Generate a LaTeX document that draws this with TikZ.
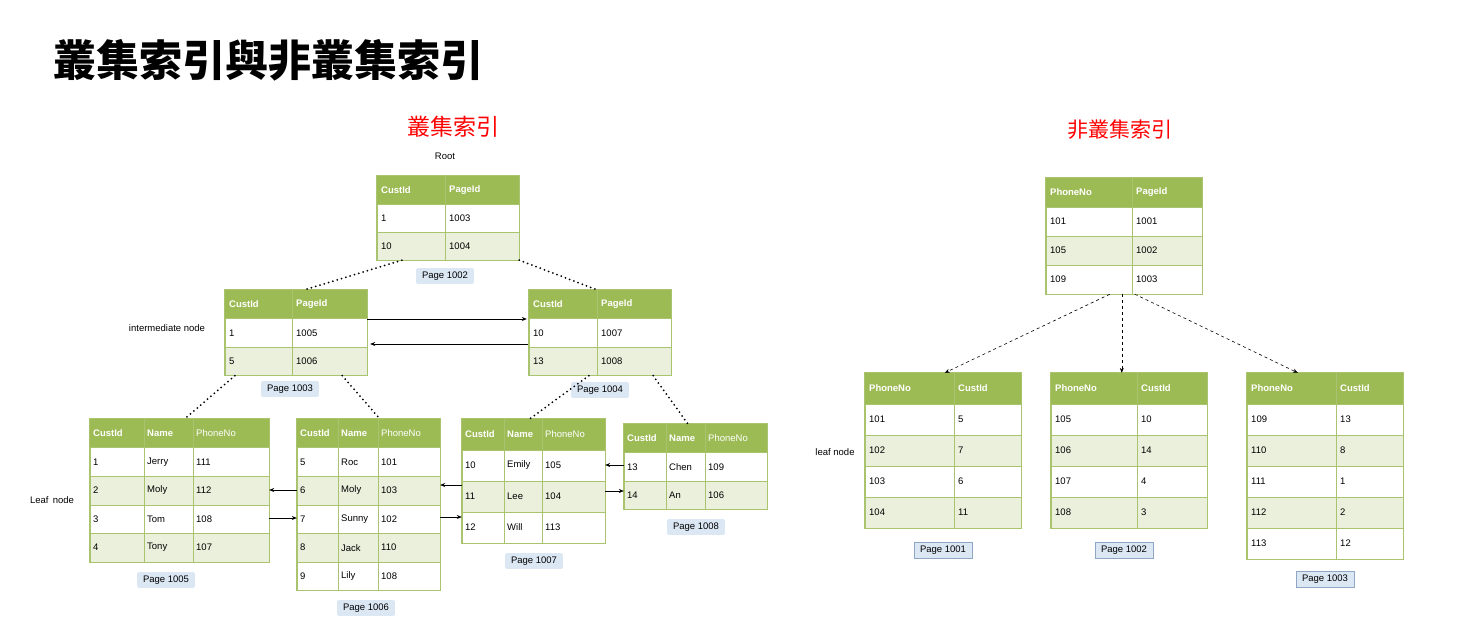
\documentclass[tikz,border=0pt]{standalone}
\usepackage{fontspec}
\setmainfont{Liberation Sans}
\newfontfamily\cjk{Noto Sans CJK TC}
\usetikzlibrary{fit,arrows.meta}
\definecolor{hdr}{HTML}{9DBB55}
\definecolor{rowg}{HTML}{EAF0DC}
\definecolor{brd}{HTML}{A9C36E}
\definecolor{pg}{HTML}{DCE7F4}
\definecolor{pgb}{HTML}{8FA6C4}
\tikzset{
 cell/.style={anchor=west,font=\fontsize{9.5}{10}\selectfont,inner sep=0pt},
 hcell/.style={anchor=west,font=\fontsize{9.5}{10}\selectfont\bfseries,text=white,inner sep=0pt},
 page/.style={fill=pg,rounded corners=1.5pt,font=\fontsize{9.5}{10}\selectfont,inner xsep=6pt,inner ysep=3.5pt},
 pageb/.style={page,draw=pgb,rounded corners=0pt},
 lbl/.style={font=\fontsize{9.5}{10}\selectfont},
 dots/.style={line width=2pt,line cap=round,dash pattern=on 0pt off 4.5pt},
 link/.style={-{Stealth[length=5pt,width=4pt]},line width=0.6pt},
 dlink/.style={dashed,-{Stealth[length=5pt,width=4pt]},line width=0.6pt}
}
% two-column table: name,x0,xs,x1,y0,h,H1,H2,rows
\newcommand\tabtwo[9]{%
 \fill[hdr] (#2,#5) rectangle (#4,{#5+#6});
 \node[hcell] at (#2+4,{#5+#6/2}) {#7};
 \node[hcell] at (#3+4,{#5+#6/2}) {#8};
 \foreach \a/\b [count=\i] in {#9}{%
  \ifodd\i\def\rc{white}\else\def\rc{rowg}\fi
  \pgfmathsetmacro\yy{#5+\i*#6}
  \filldraw[fill=\rc,draw=brd] (#2,\yy) rectangle (#4,\yy+#6);
  \draw[brd] (#3,\yy) -- (#3,\yy+#6);
  \node[cell] at (#2+4,\yy+#6/2) {\a};
  \node[cell] at (#3+4,\yy+#6/2) {\b};
  \node[inner sep=0pt,fit={(#2,#5) (#4,\yy+#6)}] (#1) {};
 }
 \draw[brd,line width=0.8pt] (#1.north west) rectangle (#1.south east);
 \draw[brd] (#3,#5) -- (#3,#5+#6);
}
% three-column table: name,x0,xs1,xs2,x1,y0,h,rows
\newcommand\tabthree[8]{%
 \fill[hdr] (#2,#6) rectangle (#5,{#6+#7});
 \node[hcell] at (#2+3,{#6+#7/2}) {CustId};
 \node[hcell] at (#3+3,{#6+#7/2}) {Name};
 \node[hcell,font=\fontsize{9.5}{10}\selectfont] at (#4+3,{#6+#7/2}) {PhoneNo};
 \foreach \a/\b/\c [count=\i] in {#8}{%
  \ifodd\i\def\rc{white}\else\def\rc{rowg}\fi
  \pgfmathsetmacro\yy{#6+\i*#7}
  \filldraw[fill=\rc,draw=brd] (#2,\yy) rectangle (#5,\yy+#7);
  \draw[brd] (#3,\yy) -- (#3,\yy+#7) (#4,\yy) -- (#4,\yy+#7);
  \node[cell] at (#2+3,\yy+#7/2) {\a};
  \node[cell] at (#3+3,\yy+#7/2) {\b};
  \node[cell] at (#4+3,\yy+#7/2) {\c};
  \node[inner sep=0pt,fit={(#2,#6) (#5,\yy+#7)}] (#1) {};
 }
 \draw[brd,line width=0.8pt] (#1.north west) rectangle (#1.south east);
 \draw[brd] (#3,#6) -- (#3,#6+#7) (#4,#6) -- (#4,#6+#7);
}
\begin{document}
\begin{tikzpicture}[x=1pt,y=-1pt]
\useasboundingbox (0,0) rectangle (1461,631);
\fill[white] (0,0) rectangle (1461,631);
\node[anchor=west,font=\cjk\bfseries\fontsize{43}{46}\selectfont] (title) at (50,60) {叢集索引與非叢集索引};
\node[text=red,font=\cjk\fontsize{23}{25}\selectfont] (t1) at (453,127) {叢集索引};
\node[text=red,font=\cjk\fontsize{21}{23}\selectfont] (t2) at (1120,130) {非叢集索引};
% clustered
\node[lbl] (rootl) at (445,156) {Root};
\tabtwo{root}{377}{445}{519}{176}{28}{CustId}{PageId}{1/1003,10/1004}
\tabtwo{il}{225}{292}{367}{290}{28.5}{CustId}{PageId}{1/1005,5/1006}
\tabtwo{ir}{529}{597}{671}{290}{28.5}{CustId}{PageId}{10/1007,13/1008}
\tabthree{l5}{90}{144}{193}{269}{419}{28.6}{1/Jerry/111,2/Moly/112,3/Tom/108,4/Tony/107}
\tabthree{l6}{297}{338}{378}{440}{419}{28.6}{5/Roc/101,6/Moly/103,7/Sunny/102,8/Jack/110,9/Lily/108}
\tabthree{l7}{462}{504}{542}{605}{419}{31}{10/Emily/105,11/Lee/104,12/Will/113}
\tabthree{l8}{624}{666}{705}{767}{424}{28.5}{13/Chen/109,14/An/106}
\node[page] (p1002) at (445,276) {Page 1002};
\node[page] (p1003) at (290,389) {Page 1003};
\node[page] (p1004) at (600,390) {Page 1004};
\node[page] (p1005) at (166,580) {Page 1005};
\node[page] (p1006) at (366,608) {Page 1006};
\node[page] (p1007) at (534,561) {Page 1007};
\node[page] (p1008) at (696,527) {Page 1008};
\node[lbl] (iml) at (167,328) {intermediate node};
\node[lbl] (lfl) at (52,500) {Leaf\, node};
\draw[dots] ([xshift=25pt]root.south west) -- ([xshift=80pt]il.north west);
\draw[dots] (root.south east) -- ([xshift=68pt]ir.north west);
\draw[dots] ([xshift=10pt]il.south west) -- ([xshift=95pt]l5.north west);
\draw[dots] ([xshift=-25pt]il.south east) -- ([xshift=83pt]l6.north west);
\draw[dots] ([xshift=60pt]ir.south west) -- ([xshift=68pt]l7.north west);
\draw[dots] ([xshift=-18pt]ir.south east) -- ([xshift=64pt]l8.north west);
\draw[link] (il.east |- 0,319) -- ([xshift=-2pt]ir.west |- 0,319);
\draw[link] ([xshift=-1pt]ir.west |- 0,344) -- ([xshift=3pt]il.east |- 0,344);
\draw[link] (l6.west |- 0,490) -- (l5.east |- 0,490);
\draw[link] (l5.east |- 0,518) -- (l6.west |- 0,518);
\draw[link] (l7.west |- 0,485) -- (l6.east |- 0,485);
\draw[link] (l6.east |- 0,517) -- (l7.west |- 0,517);
\draw[link] (l8.west |- 0,465) -- (l7.east |- 0,465);
\draw[link] (l7.east |- 0,491) -- (l8.west |- 0,491);
% non-clustered
\tabtwo{nroot}{1046}{1132}{1202}{178}{29}{PhoneNo}{PageId}{101/1001,105/1002,109/1003}
\tabtwo{n1}{865}{954}{1021}{373}{31}{PhoneNo}{CustId}{101/5,102/7,103/6,104/11}
\tabtwo{n2}{1051}{1137}{1207}{373}{31}{PhoneNo}{CustId}{105/10,106/14,107/4,108/3}
\tabtwo{n3}{1247}{1336}{1403}{373}{31}{PhoneNo}{CustId}{109/13,110/8,111/1,112/2,113/12}
\node[lbl] (lfr) at (835,452) {leaf node};
\node[pageb] (q1001) at (943,550) {Page 1001};
\node[pageb] (q1002) at (1124,550) {Page 1002};
\node[pageb] (q1003) at (1325,579) {Page 1003};
\draw[dlink] ([xshift=64pt]nroot.south west) -- ([xshift=80pt]n1.north west);
\draw[dlink] ([xshift=76pt]nroot.south west) -- ([xshift=71pt]n2.north west);
\draw[dlink] ([xshift=89pt]nroot.south west) -- ([xshift=51pt]n3.north west);
\end{tikzpicture}
\end{document}
